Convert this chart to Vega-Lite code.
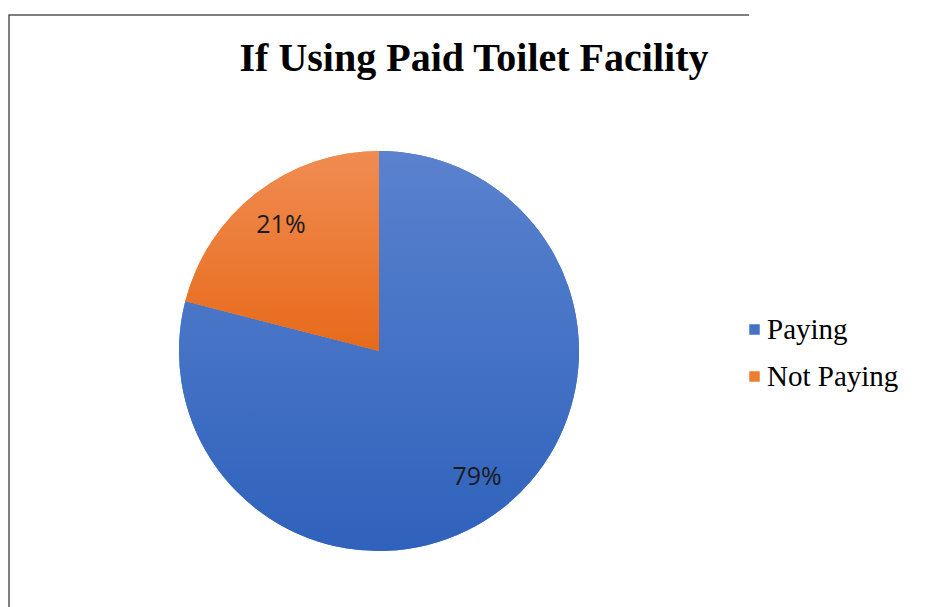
{
  "$schema": "https://vega.github.io/schema/vega-lite/v6.json",
  "width": 740,
  "height": 672,
  "autosize": "none",
  "padding": {"left": 9, "top": 15, "right": 182, "bottom": 0},
  "background": "white",
  "view": {"stroke": "#555555", "strokeWidth": 1.5, "strokeDash": [740, 1412, 672]},
  "title": {
    "text": "If Using Paid Toilet Facility",
    "font": "Liberation Serif",
    "fontSize": 40,
    "fontWeight": "bold",
    "color": "#000000",
    "anchor": "middle",
    "baseline": "alphabetic",
    "offset": -96,
    "dx": 95
  },
  "data": {
    "values": [
      {"category": "Paying", "value": 79, "label": "79%"},
      {"category": "Not Paying", "value": 21, "label": "21%"}
    ]
  },
  "transform": [
    {"stack": "value", "groupby": [], "sort": [{"field": "category", "order": "descending"}], "as": ["v0", "v1"]}
  ],
  "layer": [
    {
      "mark": {"type": "arc", "outerRadius": 200},
      "encoding": {
        "theta": {"field": "v0", "type": "quantitative", "scale": {"domain": [0, 100]}},
        "theta2": {"field": "v1"},
        "color": {
          "field": "category",
          "type": "nominal",
          "scale": {"domain": ["Paying", "Not Paying"], "range": ["#4472C4", "#ED7D31"]},
          "legend": {
            "title": null,
            "orient": "none",
            "legendX": 731,
            "legendY": 300,
            "symbolType": "square",
            "symbolSize": 110,
            "symbolStrokeWidth": 0,
            "labelFont": "Liberation Serif",
            "labelFontSize": 29,
            "labelColor": "#000000",
            "labelOffset": -2,
            "rowPadding": 17,
            "labelLimit": 300
          }
        }
      }
    },
    {
      "transform": [{"filter": "datum.category === 'Paying'"}],
      "mark": {
        "type": "arc",
        "outerRadius": 200,
        "fill": {"gradient": "linear", "x1": 0, "y1": 0, "x2": 0, "y2": 1, "stops": [{"offset": 0, "color": "#5A82CE"}, {"offset": 1, "color": "#2F62BC"}]}
      },
      "encoding": {
        "theta": {"field": "v0", "type": "quantitative"},
        "theta2": {"field": "v1"}
      }
    },
    {
      "transform": [{"filter": "datum.category === 'Not Paying'"}],
      "mark": {
        "type": "arc",
        "outerRadius": 200,
        "fill": {"gradient": "linear", "x1": 0, "y1": 0, "x2": 0, "y2": 1, "stops": [{"offset": 0, "color": "#F08C52"}, {"offset": 1, "color": "#E76A1A"}]}
      },
      "encoding": {
        "theta": {"field": "v0", "type": "quantitative"},
        "theta2": {"field": "v1"}
      }
    },
    {
      "mark": {"type": "text", "radius": 160, "font": "Open Sans", "fontSize": 25, "color": "#1a1a1a"},
      "encoding": {
        "theta": {"field": "value", "type": "quantitative", "stack": true},
        "order": {"field": "category", "type": "nominal", "sort": "descending"},
        "text": {"field": "label", "type": "nominal"}
      }
    }
  ]
}
